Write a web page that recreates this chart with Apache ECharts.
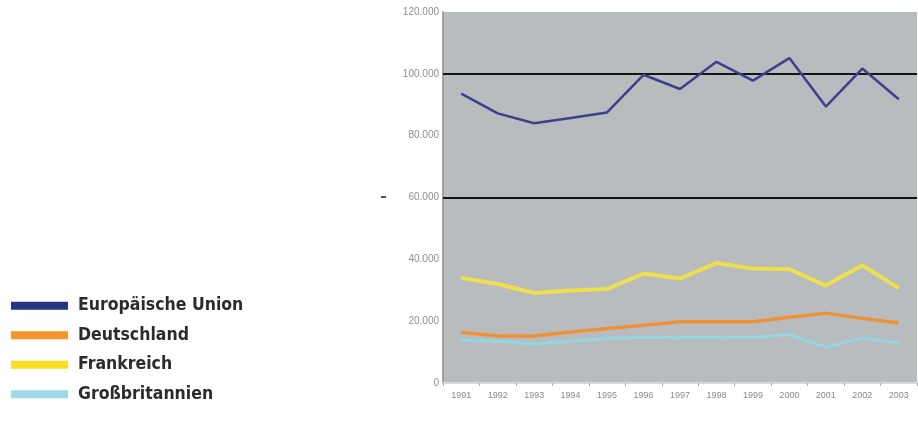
<!DOCTYPE html>
<html>
<head>
<meta charset="utf-8">
<script src="https://cdn.jsdelivr.net/npm/echarts@6/dist/echarts.min.js"></script>
<style>
  html, body { margin: 0; padding: 0; background: #fff; }
  #mainChart { width: 918px; height: 421px; }
</style>
</head>
<body>
<div id="mainChart"></div>
<script type="text/javascript">
// Jahre
var years = ['1991', '1992', '1993', '1994', '1995', '1996', '1997', '1998', '1999', '2000', '2001', '2002', '2003'];
// Werte je Land
var euValues = [93600, 87200, 84000, 85700, 87500, 99700, 95100, 103900, 97800, 105100, 89400, 101700, 91800];
var deValues = [16400, 15200, 15200, 16500, 17600, 18700, 19800, 19800, 19800, 21300, 22600, 20900, 19400];
var frValues = [34000, 32000, 29100, 29900, 30400, 35400, 33800, 38800, 37000, 36800, 31500, 38100, 30700];
var gbValues = [13800, 13500, 12600, 13500, 14400, 14800, 14600, 14600, 14800, 15700, 11600, 14600, 13000];
// Achse
var yTicks = [0, 20000, 40000, 60000, 80000, 100000, 120000];
var refLines = [100000, 60000];

var myChart = echarts.init(document.getElementById('mainChart'));
var legendFont = '"DejaVu Sans Condensed", "Liberation Sans Narrow", sans-serif';

var options = {
    animation: false,
    color: ['#333a86', '#ef9233', '#f1df3a', '#92d8e2'],
    legend: {
        orient: 'vertical',
        left: 11,
        top: 294,
        padding: 0,
        icon: 'rect',
        itemWidth: 57,
        itemHeight: 8,
        itemGap: 6,
        selectedMode: false,
        data: [
            { name: 'Europäische Union', itemStyle: { color: '#2a3580' } },
            { name: 'Deutschland', itemStyle: { color: '#f7942d' } },
            { name: 'Frankreich', itemStyle: { color: '#fbdd22' } },
            { name: 'Großbritannien', itemStyle: { color: '#9fd9e8' } }
        ],
        textStyle: {
            fontFamily: legendFont,
            fontWeight: 'bold',
            fontSize: 17.5,
            lineHeight: 23.5,
            color: '#2b2b2b',
            padding: [0, 0, 0, 5]
        }
    },
    grid: {
        left: 443,
        right: 1,
        top: 12,
        bottom: 38,
        show: true,
        backgroundColor: '#b9bcbf',
        borderWidth: 0
    },
    xAxis: {
        type: 'category',
        data: years,
        boundaryGap: true,
        axisLine: { show: true, lineStyle: { color: '#d6d9dd', width: 2 } },
        axisTick: { show: true, length: 3, lineStyle: { color: '#a8abae' } },
        axisLabel: { color: '#8a8a8a', fontSize: 9, margin: 8, fontFamily: 'Liberation Sans' }
    },
    yAxis: {
        type: 'value',
        min: 0,
        max: 120000,
        interval: 20000,
        axisLine: { show: true, lineStyle: { color: '#9ea1a4', width: 2 } },
        axisTick: { show: false },
        splitLine: { show: false },
        axisLabel: {
            color: '#8e8e8e',
            fontSize: 10,
            margin: 4,
            fontFamily: 'Liberation Sans',
            formatter: function (v) {
                if (yTicks.indexOf(v) < 0) return '';
                if (v === 0) return '0';
                var s = String(v);
                return s.slice(0, s.length - 3) + '.' + s.slice(-3);
            }
        }
    },
    series: [
        {
            name: 'Europäische Union', type: 'line', data: euValues,
            symbol: 'none', lineStyle: { width: 2.5, color: '#3d408b' },
            z: 5,
            markLine: {
                silent: true,
                symbol: ['none', 'none'],
                label: { show: false },
                lineStyle: { color: '#151515', width: 2, type: 'solid' },
                data: refLines.map(function (v) { return { yAxis: v }; })
            }
        },
        { name: 'Deutschland', type: 'line', data: deValues, symbol: 'none', lineStyle: { width: 3.5, color: '#ee9235' } },
        { name: 'Frankreich', type: 'line', data: frValues, symbol: 'none', lineStyle: { width: 4, color: '#ede04c' } },
        { name: 'Großbritannien', type: 'line', data: gbValues, symbol: 'none', lineStyle: { width: 3, color: '#90d7e0' } }
    ],
    graphic: [
        { type: 'rect', left: 381, top: 196, shape: { width: 5, height: 2 }, style: { fill: '#555' } }
    ]
};

myChart.setOption(options);
</script>
</body>
</html>
